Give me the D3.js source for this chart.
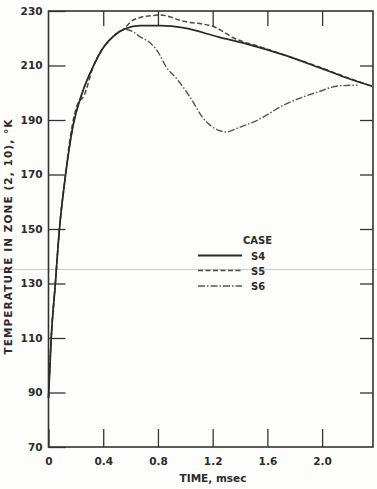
<!DOCTYPE html>
<html>
<head>
<meta charset="utf-8">
<script src="https://cdn.jsdelivr.net/npm/d3@7/dist/d3.min.js"></script>
<style>
  html, body { margin: 0; padding: 0; background: #fdfdfc; }
  svg { display: block; }
  text { font-family: "DejaVu Sans", "Liberation Sans", Arial, sans-serif; font-weight: bold; fill: #2b2b2b; }
</style>
</head>
<body>
<svg id="chart" width="377" height="489"></svg>
<script>
// Zone (2,10) temperature histories, time in msec, temperature in deg K
const caseNames = ["S4", "S5", "S6"];

const timeS4 = [0, 0.02, 0.05, 0.08, 0.12, 0.18, 0.24, 0.33, 0.40, 0.48, 0.56, 0.67, 0.82, 0.99, 1.24, 1.48, 1.72, 1.97, 2.16, 2.365];
const tempS4 = [88, 110, 130, 150, 168, 188, 199, 210, 216.5, 221, 223.5, 224.6, 224.6, 223.8, 220.5, 217.5, 213.9, 209.4, 205.8, 202.4];

const timeS5 = [0, 0.02, 0.05, 0.08, 0.12, 0.16, 0.21, 0.26, 0.33, 0.40, 0.48, 0.56, 0.60, 0.67, 0.82, 0.99, 1.21, 1.35, 1.55, 1.75, 1.97, 2.16, 2.365];
const tempS5 = [88, 110, 130, 150, 168, 184, 195.5, 199, 210, 216.5, 221, 223.8, 226, 227.6, 228.5, 226.2, 224.2, 220.2, 216.8, 213.4, 209.6, 206, 202.4];

const timeS6 = [0, 0.02, 0.05, 0.08, 0.12, 0.18, 0.24, 0.33, 0.40, 0.48, 0.56, 0.62, 0.67, 0.75, 0.80, 0.86, 0.94, 1.04, 1.13, 1.24, 1.30, 1.38, 1.53, 1.72, 1.97, 2.12, 2.26];
const tempS6 = [88, 110, 130, 150, 168, 188, 199, 210, 216.5, 221, 223.3, 222.3, 220.5, 218, 215, 209.5, 205, 198, 190.7, 186.3, 185.6, 187, 190, 195.5, 200.3, 202.5, 202.8];

const xTicks = [0, 0.4, 0.8, 1.2, 1.6, 2.0];
const yTicks = [70, 90, 110, 130, 150, 170, 190, 210, 230];

const svg = d3.select("#chart");
const frame = { left: 48.5, right: 373, top: 11, bottom: 447 };

const x = d3.scaleLinear().domain([0, 2.372]).range([frame.left, frame.right]);
const y = d3.scaleLinear().domain([70, 230]).range([frame.bottom, frame.top]);

// faint ruled line running across the sheet
svg.append("line")
  .attr("x1", 0).attr("x2", 377).attr("y1", 269.5).attr("y2", 269.5)
  .attr("stroke", "#c9c9c9").attr("stroke-width", 1);

// axes: ticks point inward on all four sides
const axisStyle = g => {
  g.select(".domain").remove();
  g.selectAll(".tick line").attr("stroke", "#333").attr("stroke-width", 1.3);
  g.selectAll("text").attr("font-size", 10.5).attr("fill", "#2b2b2b");
};

svg.append("g")
  .attr("transform", `translate(0,${frame.bottom})`)
  .call(d3.axisBottom(x).tickValues(xTicks).tickSize(-18).tickPadding(11)
    .tickFormat(d => d === 0 ? "0" : d3.format(".1f")(d)))
  .call(axisStyle);

svg.append("g")
  .attr("transform", `translate(0,${frame.top})`)
  .call(d3.axisTop(x).tickValues(xTicks.slice(1)).tickSize(-15).tickFormat(""))
  .call(axisStyle);

svg.append("g")
  .attr("transform", `translate(${frame.left},0)`)
  .call(d3.axisLeft(y).tickValues(yTicks).tickSize(-17).tickPadding(6))
  .call(axisStyle);

svg.append("g")
  .attr("transform", `translate(${frame.right},0)`)
  .call(d3.axisRight(y).tickValues(yTicks.slice(1, -1)).tickSize(-13).tickFormat(""))
  .call(axisStyle);

// plot frame
svg.append("rect")
  .attr("x", frame.left).attr("y", frame.top)
  .attr("width", frame.right - frame.left).attr("height", frame.bottom - frame.top)
  .attr("fill", "none").attr("stroke", "#333").attr("stroke-width", 1.6);

// axis titles
svg.append("text")
  .attr("x", 213).attr("y", 482)
  .attr("text-anchor", "middle").attr("font-size", 10.5)
  .text("TIME, msec");

svg.append("text")
  .attr("transform", "translate(12,237) rotate(-90)")
  .attr("text-anchor", "middle").attr("font-size", 10.5)
  .attr("textLength", 235).attr("lengthAdjust", "spacing")
  .text("TEMPERATURE IN ZONE (2, 10), °K");

// temperature curves
const series = [
  { name: caseNames[0], t: timeS4, v: tempS4, dash: null, color: "#2a2a2a", width: 1.7 },
  { name: caseNames[1], t: timeS5, v: tempS5, dash: "5,2.5", color: "#4a4a4a", width: 1.5 },
  { name: caseNames[2], t: timeS6, v: tempS6, dash: "7,2,1.5,2", color: "#555", width: 1.4 }
];

const line = d3.line()
  .x(d => x(d[0]))
  .y(d => y(d[1]))
  .curve(d3.curveMonotoneX);

svg.append("g").selectAll("path")
  .data(series.slice().reverse())
  .join("path")
  .attr("d", s => line(s.t.map((t, i) => [t, s.v[i]])))
  .attr("fill", "none")
  .attr("stroke", s => s.color)
  .attr("stroke-width", s => s.width)
  .attr("stroke-dasharray", s => s.dash)
  .attr("stroke-linejoin", "round");

// legend
const legend = svg.append("g");
legend.append("text")
  .attr("x", 243).attr("y", 244).attr("font-size", 10)
  .text("CASE");

const rowY = [255.5, 270.5, 286];
series.forEach((s, i) => {
  legend.append("line")
    .attr("x1", 198).attr("x2", 242)
    .attr("y1", rowY[i]).attr("y2", rowY[i])
    .attr("stroke", s.color)
    .attr("stroke-width", i === 0 ? 2 : 1.4)
    .attr("stroke-dasharray", s.dash);
  legend.append("text")
    .attr("x", 251).attr("y", rowY[i] + 4).attr("font-size", 10)
    .text(s.name);
});
</script>
</body>
</html>
